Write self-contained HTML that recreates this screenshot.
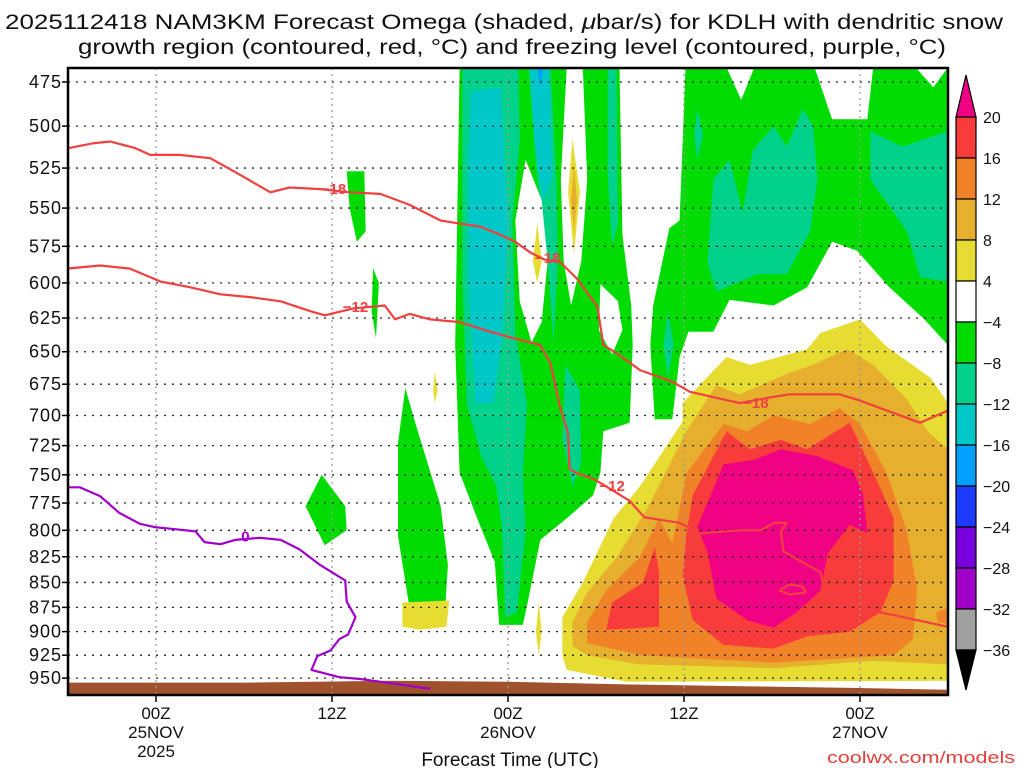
<!DOCTYPE html>
<html><head><meta charset="utf-8"><style>
html,body{margin:0;padding:0;background:#fff;width:1024px;height:768px;overflow:hidden}
svg{display:block}
text{font-family:"Liberation Sans",sans-serif;fill:#111}
</style></head><body>
<svg id="chart" width="1024" height="768" viewBox="0 0 1024 768" xmlns="http://www.w3.org/2000/svg">
<defs><clipPath id="plotclip"><rect x="68" y="68" width="880" height="627"/></clipPath></defs>
<text x="5" y="29" font-size="21" textLength="998" lengthAdjust="spacingAndGlyphs">2025112418 NAM3KM Forecast Omega (shaded, <tspan font-style="italic">μ</tspan>bar/s) for KDLH with dendritic snow</text>
<text x="78" y="54" font-size="21" textLength="868" lengthAdjust="spacingAndGlyphs">growth region (contoured, red, °C) and freezing level (contoured, purple, °C)</text>
<g id="plot" clip-path="url(#plotclip)"></g>
<g id="overlay"></g>
<g id="cbar"></g>
<text x="510" y="766" font-size="19" text-anchor="middle">Forecast Time (UTC)</text>
<text x="1015" y="763" font-size="17" text-anchor="end" style="fill:#e0403a" textLength="188" lengthAdjust="spacingAndGlyphs">coolwx.com/models</text>
</svg>
<script>
// ---- data (hour since 18Z 24NOV, pressure hPa) ----
const pressureLevels=[475,500,525,550,575,600,625,650,675,700,725,750,775,800,825,850,875,900,925,950];
const timeTickHours=[6,18,30,42,54];
const timeTickLabels=[["00Z","25NOV","2025"],["12Z"],["00Z","26NOV"],["12Z"],["00Z","27NOV"]];
const cbarLabels=["20","16","12","8","4","−4","−8","−12","−16","−20","−24","−28","−32","−36"];
const cbarColors=["#f83c3c","#f08228","#e6af2d","#e6dc32","#ffffff","#00dc00","#00d28c","#00c8c8","#00a0ff","#1e3cff","#7800dc","#a000c8","#a0a0a0"];
const green1=[[26.7,467],[37.6,467],[37.8,567],[38.4,616],[38.5,645],[38.3,706],[36.5,713],[36.3,748],[35.8,768],[34,789],[32.2,809],[31.3,873],[31,893],[29.4,893],[29.1,830],[27.9,789],[26.7,748],[26.4,645]];
const green2=[[42.1,467],[44.9,467],[45.9,485],[46.8,467],[50.9,467],[52.1,496],[54.5,496],[54.9,467],[57.8,467],[59,478],[60,467],[60,645],[58.3,625],[56,603],[53.8,578],[52.1,572],[50.4,603],[48.1,616],[45.1,612],[44,635],[42.3,635],[41.7,654],[41.2,703],[40,703],[39.7,645],[39.9,616],[41,563],[41.7,558]];
const greenBlobA=[[19,527],[20.2,527],[20.3,565],[19.7,572],[19.2,550]];
const greenBlobB=[[20.8,590],[21.2,600],[21,640],[20.7,620]];
const greenBlobC=[[23,678],[23.7,707],[25.4,777],[25.9,833],[25.7,880],[23.3,877],[22.5,805],[22.5,723]];
const greenBlobD=[[17.3,750],[18.9,778],[19,800],[17.5,814],[16.2,778]];
const teal1=[[26.9,467],[30.7,467],[30.8,508],[30.3,558],[30.5,636],[31.3,691],[31,750],[31.2,800],[30.6,880],[29.8,885],[29.6,800],[29.2,760],[28.2,735],[27.2,691],[26.9,600]];
const teal2=[[31.4,467],[32.9,467],[33.3,532],[33.4,585],[33.1,643],[32.7,585],[32,532]];
const teal3=[[33.9,660],[34.9,680],[35,740],[34.4,760],[33.7,720]];
const teal4=[[36.8,467],[37.4,467],[37.5,560],[37.1,575],[36.8,530]];
const teal5=[[43.6,586],[44,532],[45.1,520],[46,553],[46.7,514],[48.1,500],[49,512],[50.1,490],[50.8,500],[51.1,532],[50.6,565],[49,594],[47,594],[44.2,606]];
const teal6=[[54.7,503],[56.9,512],[60,503],[60,599],[58.1,596],[57.2,565],[54.7,532]];
const teal7=[[42.9,490],[43.3,505],[42.9,520],[42.7,505]];
const teal8=[[40.9,620],[41.3,645],[40.9,670],[40.6,645]];
const cyan1=[[27.5,480],[29.5,478],[30,560],[29.6,640],[29,690],[27.8,690],[27.3,600],[27.3,520]];
const cyan2=[[31.5,467],[32.8,467],[33,530],[32.4,545],[31.8,510]];
const blue1=[[32,467],[32.4,467],[32.2,478]];
const white1=[[31.2,520],[32.3,545],[32.7,585],[32.3,628],[31.6,643],[30.8,613],[30.5,558]];
const white2=[[34,467],[35.1,467],[35.4,532],[35,585],[34.3,616],[33.8,585],[33.6,532]];
const white3=[[36.3,601],[37.5,613],[37.8,634],[37.1,652],[36.2,634]];
const yellowStripe=[[34.4,508],[34.9,540],[34.5,580],[34.1,540]];
const orangeStripe=[[34.5,522],[34.7,545],[34.5,565],[34.3,545]];
const yellowSliverA=[[32,560],[32.3,585],[32,600],[31.7,585]];
const yellowSliverB=[[32.1,870],[32.3,900],[32.1,925],[31.9,900]];
const yellowDot=[[25,665],[25.2,680],[25,690],[24.9,680]];
const yellowBlob=[[22.8,870],[26,868],[25.8,895],[24,898],[22.8,895]];
const warm4=[[33.7,885],[35.1,850],[37.2,789],[39,760],[41.9,705],[41.9,690],[44.9,654],[46.5,660],[50.4,648],[51.3,636],[54,626],[55.8,646],[58.8,670],[60,690],[60,953],[38.1,954],[34,941],[33.7,925]];
const warm8=[[34.4,890],[35.4,860],[37.4,826],[39.5,780],[42.2,712],[44.2,676],[45.8,683],[49.2,666],[50.8,660],[53.1,648],[54.9,660],[57.2,687],[58.6,713],[60,728],[60,935],[54.9,931],[48.1,939],[39,935],[35.4,925],[34.4,915]];
const warm12=[[35.4,890],[36.7,858],[39,825],[40.3,789],[41.2,812],[42.2,748],[44.7,707],[46.3,713],[48.1,700],[50.6,707],[52.6,694],[54,707],[55.8,748],[57.2,801],[57.9,857],[57.6,908],[56.3,925],[48.1,933],[39,925],[35.4,912]];
const warm12b=[[59.2,880],[60,876],[60,892],[59.3,890]];
const warm16a=[[40,816],[40.3,840],[40.3,895],[36.7,898],[37.1,870],[39.2,850]];
const warm16=[[42.2,800],[42.6,768],[44.9,713],[46.5,728],[48.6,720],[50.4,728],[53.3,706],[54.9,748],[56.3,789],[56.3,848],[55.4,880],[53.3,900],[50.4,905],[48.1,918],[44.7,914],[42.6,888],[41.9,843]];
const warm20=[[42.9,797],[44.7,741],[46.8,737],[48.6,728],[51.1,734],[53.5,746],[54.2,767],[54.5,802],[53.3,795],[51.8,822],[51.3,858],[49.7,880],[48.1,896],[46.3,888],[44.2,866],[43.6,820]];
const surfaceHours=[0,12,22,30,38,46,54,60];
const surfacePressure=[955,955,953,954,957,959,961,963];
const dgzMinus18=[[0,513],[1.8,510],[2.9,509],[4.6,513],[5.6,517],[7.6,517],[9.7,519],[11.7,529],[13.8,540],[15.1,537],[17.2,538],[19.2,540],[21.3,541],[23.3,548],[25.4,558],[26.7,560],[28.1,562],[29.4,567],[30.5,572],[31.5,579],[32.5,584],[33.5,585],[34.7,597],[36.1,617],[36.5,645],[37.4,651],[39,664],[41.2,673],[42.4,681],[45.8,690],[48.1,685],[49.2,683],[52.6,683],[54,688],[58.1,706],[60,696]];
const dgzMinus12=[[0,590],[2.2,588],[4.2,590],[6.3,599],[8.3,603],[10.4,608],[12.4,610],[14.5,613],[16.5,620],[17.5,623],[19.5,618],[21.6,616],[22.3,626],[23.3,622],[24.7,626],[26.7,628],[28.8,635],[30.1,639],[31.5,643],[32.2,645],[32.9,659],[33.5,691],[34.1,715],[34.2,745],[34.6,748],[35.9,754],[38.3,773],[39.3,788],[41.7,793],[43.1,803],[45.8,800],[47.2,800],[48.2,793],[49,793],[48.6,801],[48.8,820],[51.3,840],[51.6,863],[55.4,880],[60,895]];
const dgzLoop=[[48.5,858],[49.2,852],[50.1,854],[50.3,860],[49.2,862],[48.5,858]];
const freezingLine=[[0,761],[0.8,761],[2.2,769],[3.5,784],[4.9,794],[5.9,797],[7.3,799],[8.7,801],[9.3,811],[10.4,813],[11.4,809],[13.1,807],[14.5,809],[15.8,818],[17.2,833],[18.9,848],[19,869],[19.6,885],[19.1,903],[18.5,908],[17.9,920],[17,926],[16.6,941],[18.5,949],[19.9,951],[22.6,957],[24.7,962]];
const contourLabels=[["−18",18.1,538,"#f04040"],["−18",32.7,583,"#f04040"],["−18",46.9,690,"#f04040"],["−12",19.6,617,"#f04040"],["−12",37.1,760,"#f04040"],["0",12.1,806,"#a000c8"]];

// ---- axes ----
const X0=68,X1=948,Y0=68,Y1=695;
const xS=h=>X0+h*(X1-X0)/60;
const yS=p=>82+860*Math.log(p/475);
const NS="http://www.w3.org/2000/svg";
function mk(tag,parent,attrs){const e=document.createElementNS(NS,tag);for(const k in attrs)e.setAttribute(k,attrs[k]);parent.appendChild(e);return e;}
const plot=document.getElementById('plot'),ov=document.getElementById('overlay'),cb=document.getElementById('cbar');
const pts=a=>a.map(d=>xS(d[0]).toFixed(1)+","+yS(d[1]).toFixed(1)).join(" ");
function poly(a,fill,name){const e=mk('polygon',plot,{points:pts(a),fill:fill});

}
function line(a,color,name){const e=mk('polyline',plot,{points:pts(a),fill:'none',stroke:color,'stroke-width':2.2,'stroke-linejoin':'round'});

}
const G="#00dc00",T="#00d28c",C="#00c8c8",B="#00a0ff",Y4="#e6dc32",Y8="#e6af2d",O="#f08228",R="#f83c3c",M="#f00082";
poly(green1,G,'omega-green-region-left');poly(green2,G,'omega-green-region-right');
poly(greenBlobA,G,'omega-green-blob');poly(greenBlobB,G,'omega-green-blob');poly(greenBlobC,G,'omega-green-blob');poly(greenBlobD,G,'omega-green-blob');
[teal1,teal2,teal3,teal4,teal5,teal6,teal7,teal8].forEach(a=>poly(a,T,'omega-teal-region'));
poly(cyan1,C,'omega-cyan-region');poly(cyan2,C,'omega-cyan-region');poly(blue1,B,'omega-blue-region');
[white1,white2,white3].forEach(a=>poly(a,"#ffffff",'omega-neutral-gap'));
poly(yellowStripe,Y4,'omega-yellow-stripe');poly(orangeStripe,Y8,'omega-darkyellow-stripe');
[yellowSliverA,yellowSliverB,yellowDot,yellowBlob].forEach(a=>poly(a,Y4,'omega-yellow-blob'));
poly(warm4,Y4,'omega-4-8-region');poly(warm8,Y8,'omega-8-12-region');poly(warm12,O,'omega-12-16-region');poly(warm12b,O,'omega-12-16-region');
poly(warm16a,R,'omega-16-20-region');poly(warm16,R,'omega-16-20-region');poly(warm20,M,'omega-over-20-region');
// ground
{const g=surfaceHours.map((h,i)=>[h,surfacePressure[i]]);const gp=pts(g)+` ${X1},${Y1} ${X0},${Y1}`;
const e=mk('polygon',plot,{points:gp,fill:'#a0522d'});

}
// grid
pressureLevels.forEach(p=>{const e=mk('line',plot,{x1:X0,x2:X1,y1:yS(p),y2:yS(p),stroke:'#222','stroke-width':1.3,'stroke-dasharray':'2,6'});

});
timeTickHours.forEach(h=>{const e=mk('line',plot,{x1:xS(h),x2:xS(h),y1:Y0,y2:Y1,stroke:'#999','stroke-width':1.3,'stroke-dasharray':'2,4'});

});
// contours
line(dgzMinus18,'#f04040','dgz-contour-minus18');line(dgzMinus12,'#f04040','dgz-contour-minus12');line(dgzLoop,'#f04040','dgz-contour-loop');
line(freezingLine,'#a000c8','freezing-level-contour');
contourLabels.forEach(c=>{const x=xS(c[1]),y=yS(c[2]);
const t=mk('text',plot,{x:x,y:y+5,'font-size':15,'font-weight':'bold','text-anchor':'middle',style:'fill:'+c[3]});t.textContent=c[0];

});
// frame
{const f=mk('rect',ov,{x:X0,y:Y0,width:X1-X0,height:Y1-Y0,fill:'none',stroke:'#000','stroke-width':2.5});

}
pressureLevels.forEach(p=>{const y=yS(p);
const tk=mk('line',ov,{x1:X0-6,x2:X0,y1:y,y2:y,stroke:'#000','stroke-width':1.5});


const t=mk('text',ov,{x:62,y:y+6,'font-size':18,'text-anchor':'end','letter-spacing':1});t.textContent=p;

});
timeTickHours.forEach((h,i)=>{const x=xS(h);
const tk=mk('line',ov,{x1:x,x2:x,y1:Y1,y2:Y1+7,stroke:'#000','stroke-width':1.5});


timeTickLabels[i].forEach((s,j)=>{const t=mk('text',ov,{x:x,y:719+j*19,'font-size':17,'text-anchor':'middle'});t.textContent=s;

});});
// colorbar
{const bx=956,bw=20,top=117,bh=(650-117)/cbarColors.length;
const tu=mk('polygon',cb,{points:`${bx},${top} ${bx+bw},${top} ${bx+bw/2},75`,fill:M,stroke:'#000','stroke-width':1.2});


cbarColors.forEach((c,i)=>{const r=mk('rect',cb,{x:bx,y:top+i*bh,width:bw,height:bh,fill:c,stroke:'#000','stroke-width':1.2});

});
const td=mk('polygon',cb,{points:`${bx},650 ${bx+bw},650 ${bx+bw/2},690`,fill:'#000',stroke:'#000','stroke-width':1.2});


cbarLabels.forEach((s,i)=>{const t=mk('text',cb,{x:983,y:top+i*bh+6,'font-size':16});t.textContent=s;

});}
</script>
</body></html>
